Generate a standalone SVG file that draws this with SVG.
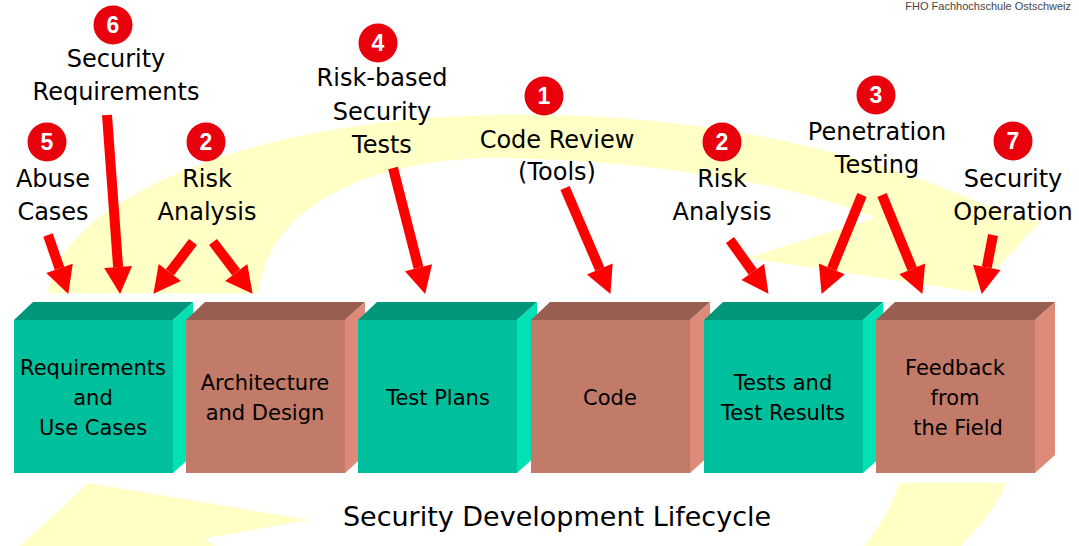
<svg xmlns="http://www.w3.org/2000/svg" width="1079" height="546" viewBox="0 0 1079 546">
<defs>
<style>
.lbl{font-family:"DejaVu Sans",Verdana,sans-serif;font-size:24px;fill:#000;text-anchor:middle}
.box{font-family:"DejaVu Sans",Verdana,sans-serif;font-size:21px;fill:#000;text-anchor:middle}
.num{font-family:"Liberation Sans",Arial,sans-serif;font-weight:bold;font-size:23px;fill:#fff;text-anchor:middle}
.badge{fill:#E8000C}
.tf{fill:#00BF9C}.tt{fill:#00967A}.ts{fill:#00E2B4}
.bf{fill:#C27A69}.bt{fill:#985F51}.bs{fill:#DE8A78}
.arr{stroke:#FF0000;stroke-width:10;fill:none;marker-end:url(#ah)}
.band{fill:#FFFFC6}
</style>
<marker id="ah" markerUnits="userSpaceOnUse" viewBox="0 -14 27 28" refX="0" refY="0" markerWidth="27" markerHeight="28" orient="auto" overflow="visible">
<path d="M0,-14 L27,0 L0,14 Z" fill="#FF0000"/>
</marker>
</defs>
<rect width="1079" height="546" fill="#fff"/>
<g id="background">
<path class="band" d="M48,293 C60,200 250,118 500,115 C700,112 860,150 985,205 L1040,222 L975,292 L747,258 L875,218 C800,185 650,160 500,158 C380,158 270,200 258,293 Z"/>
<path class="band" d="M88,483 L310,520 L205,538 L215,546 L20,546 Z"/>
<path class="band" d="M899,483 L1006,483 C995,510 975,530 961,546 L864,546 C880,525 893,505 899,483 Z"/>
</g>
<text x="1071" y="10" font-family="Liberation Sans,Arial,sans-serif" font-size="11" fill="#444" text-anchor="end">FHO Fachhochschule Ostschweiz</text>
<g id="box-requirements">
<rect class="tf" x="14" y="320" width="159" height="153"/>
<polygon class="tt" points="14,320 33,302 193,302 173,320"/>
<polygon class="ts" points="173,320 193,302 193,455 173,473"/>
<text class="box" x="93" y="375">Requirements</text>
<text class="box" x="93" y="405">and</text>
<text class="box" x="93" y="435">Use Cases</text>
</g>
<g id="box-architecture">
<rect class="bf" x="186" y="320" width="159" height="153"/>
<polygon class="bt" points="186,320 205,302 365,302 345,320"/>
<polygon class="bs" points="345,320 365,302 365,455 345,473"/>
<text class="box" x="265" y="390">Architecture</text>
<text class="box" x="265" y="420">and Design</text>
</g>
<g id="box-testplans">
<rect class="tf" x="358" y="320" width="159" height="153"/>
<polygon class="tt" points="358,320 377,302 537,302 517,320"/>
<polygon class="ts" points="517,320 537,302 537,455 517,473"/>
<text class="box" x="438" y="405">Test Plans</text>
</g>
<g id="box-code">
<rect class="bf" x="531" y="320" width="159" height="153"/>
<polygon class="bt" points="531,320 550,302 710,302 690,320"/>
<polygon class="bs" points="690,320 710,302 710,455 690,473"/>
<text class="box" x="610" y="405">Code</text>
</g>
<g id="box-tests">
<rect class="tf" x="704" y="320" width="159" height="153"/>
<polygon class="tt" points="704,320 723,302 883,302 863,320"/>
<polygon class="ts" points="863,320 883,302 883,455 863,473"/>
<text class="box" x="783" y="390">Tests and</text>
<text class="box" x="783" y="420">Test Results</text>
</g>
<g id="box-feedback">
<rect class="bf" x="876" y="320" width="159" height="153"/>
<polygon class="bt" points="876,320 895,302 1055,302 1035,320"/>
<polygon class="bs" points="1035,320 1055,302 1055,455 1035,473"/>
<text class="box" x="955" y="375">Feedback</text>
<text class="box" x="955" y="405">from</text>
<text class="box" x="958" y="435">the Field</text>
</g>
<g id="label-abuse">
<circle class="badge" cx="47" cy="142" r="19.5"/><text class="num" x="47" y="150">5</text>
<text class="lbl" x="53" y="187">Abuse</text><text class="lbl" x="53" y="220">Cases</text>
</g>
<g id="label-secreq">
<circle class="badge" cx="113" cy="25" r="19.5"/><text class="num" x="113" y="33">6</text>
<text class="lbl" x="116" y="67">Security</text><text class="lbl" x="116" y="100">Requirements</text>
</g>
<g id="label-risk1">
<circle class="badge" cx="206" cy="142" r="19.5"/><text class="num" x="206" y="150">2</text>
<text class="lbl" x="207" y="187">Risk</text><text class="lbl" x="207" y="220">Analysis</text>
</g>
<g id="label-rbt">
<circle class="badge" cx="378" cy="43" r="19.5"/><text class="num" x="378" y="51">4</text>
<text class="lbl" x="382" y="86">Risk-based</text><text class="lbl" x="382" y="120">Security</text><text class="lbl" x="382" y="153">Tests</text>
</g>
<g id="label-code">
<circle class="badge" cx="544" cy="96" r="19.5"/><text class="num" x="544" y="104">1</text>
<text class="lbl" x="557" y="148">Code Review</text><text class="lbl" x="557" y="180">(Tools)</text>
</g>
<g id="label-risk2">
<circle class="badge" cx="722" cy="142" r="19.5"/><text class="num" x="722" y="150">2</text>
<text class="lbl" x="722" y="187">Risk</text><text class="lbl" x="722" y="220">Analysis</text>
</g>
<g id="label-pen">
<circle class="badge" cx="876" cy="95" r="19.5"/><text class="num" x="876" y="103">3</text>
<text class="lbl" x="877" y="140">Penetration</text><text class="lbl" x="877" y="173">Testing</text>
</g>
<g id="label-secop">
<circle class="badge" cx="1013" cy="141" r="19.5"/><text class="num" x="1013" y="149">7</text>
<text class="lbl" x="1013" y="187">Security</text><text class="lbl" x="1013" y="220">Operation</text>
</g>
<g id="connectors">
<line class="arr" x1="48" y1="235" x2="59.5" y2="268.4"/>
<line class="arr" x1="107" y1="115" x2="118.1" y2="267.1"/>
<line class="arr" x1="193" y1="242" x2="169.8" y2="272.4"/>
<line class="arr" x1="213" y1="242" x2="236.2" y2="272.4"/>
<line class="arr" x1="393" y1="168" x2="418.5" y2="267.8"/>
<line class="arr" x1="565" y1="188" x2="599.8" y2="269.1"/>
<line class="arr" x1="730" y1="240" x2="752.8" y2="271.9"/>
<line class="arr" x1="862" y1="195" x2="831.8" y2="268.9"/>
<line class="arr" x1="882" y1="195" x2="912.2" y2="268.9"/>
<line class="arr" x1="993" y1="235" x2="986.8" y2="267.4"/>
</g>
<text class="lbl" x="557" y="526" style="font-size:27px">Security Development Lifecycle</text>
</svg>
